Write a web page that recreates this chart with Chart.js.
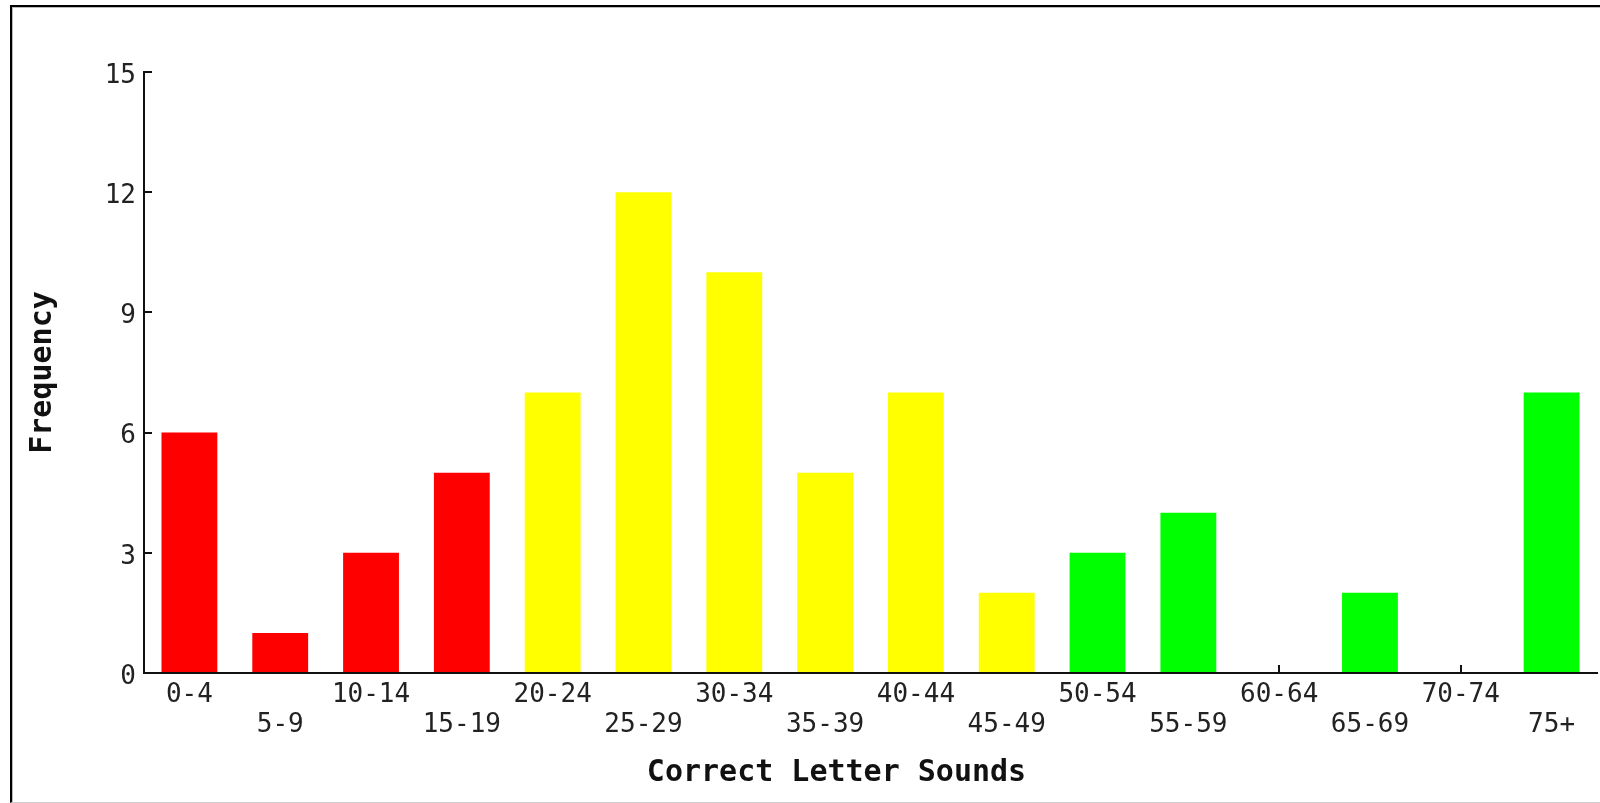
<!DOCTYPE html>
<html>
<head>
<meta charset="utf-8">
<script src="https://cdn.jsdelivr.net/npm/chart.js@4.4.1/dist/chart.umd.min.js"></script>
<style>
  html, body { margin: 0; padding: 0; background: #fff; overflow: hidden; }
  #wrap { position: relative; width: 1600px; height: 803px; }
  #frame { position: absolute; left: 10px; top: 5px; width: 1590px; height: 798px; box-sizing: border-box;
           border-top: 2px solid #000; border-left: 2px solid #000; border-bottom: 1px solid #cfcfcf; pointer-events: none;
           box-shadow: inset 1px 1px 0 #bbb; }
  canvas { position: absolute; left: 0; top: 0; }
</style>
</head>
<body>
<div id="wrap">
  <canvas id="c" width="1600" height="803"></canvas>
  <div id="frame"></div>
</div>
<script>
// ---- data ----
const categories = ['0-4','5-9','10-14','15-19','20-24','25-29','30-34','35-39','40-44','45-49','50-54','55-59','60-64','65-69','70-74','75+'];
const frequency  = [6, 1, 3, 5, 7, 12, 10, 5, 7, 2, 3, 4, 0, 2, 0, 7];
const band       = ['low','low','low','low','mid','mid','mid','mid','mid','mid','high','high','high','high','high','high'];
const yTickStep  = 3;
const yMax       = 15;
const xTitle     = 'Correct Letter Sounds';
const yTitle     = 'Frequency';

// ---- styles ----
const bandColors = { low: '#ff0000', mid: '#ffff00', high: '#00ff00' };
const barColors = band.map(b => bandColors[b]);
const MONO = "'DejaVu Sans Mono', 'Liberation Mono', monospace";

const shiftXTitle = {
  id: 'shiftXTitle',
  afterLayout(chart) {
    const s = chart.scales.x;
    if (!s.__patched) {
      const orig = s.drawTitle.bind(s);
      s.drawTitle = function () {
        const ctx = this.ctx;
        ctx.save();
        ctx.translate(-34, 0);
        orig();
        ctx.restore();
      };
      s.__patched = true;
    }
  }
};

new Chart(document.getElementById('c'), {
  type: 'bar',
  data: {
    labels: categories,
    datasets: [{
      data: frequency,
      backgroundColor: barColors,
      borderWidth: 0,
      barPercentage: 0.615,
      categoryPercentage: 1.0
    }]
  },
  options: {
    responsive: false,
    animation: false,
    devicePixelRatio: 1,
    layout: { padding: { top: 72, left: 12, right: 3, bottom: 0 } },
    plugins: { legend: { display: false }, tooltip: { enabled: false } },
    scales: {
      x: {
        afterFit: s => { s.height = 130; },
        grid: { offset: false, drawOnChartArea: false, drawTicks: true, tickLength: -8, color: '#111', lineWidth: 2, tickWidth: 2 },
        border: { display: true, color: '#111', width: 2 },
        ticks: {
          autoSkip: false, maxRotation: 0, minRotation: 0, padding: 15, color: '#222',
          font: { family: MONO, size: 26, lineHeight: 1.15 },
          callback: (v, i) => (i % 2 ? ['', categories[i]] : categories[i])
        },
        title: { display: true, text: xTitle, color: '#111', font: { family: MONO, size: 30, weight: 'bold', lineHeight: 1.2 }, padding: { top: 0, bottom: 12 } }
      },
      y: {
        min: 0, max: yMax,
        afterFit: s => { s.width = 132; },
        grid: { drawOnChartArea: false, drawTicks: true, tickLength: -8, color: '#111', lineWidth: 2, tickWidth: 2 },
        border: { display: true, color: '#111', width: 2 },
        ticks: { stepSize: yTickStep, padding: 16, labelOffset: 4, color: '#222', font: { family: MONO, size: 26 } },
        title: { display: true, text: yTitle, color: '#111', font: { family: MONO, size: 30, weight: 'bold', lineHeight: 1.2 }, padding: { top: 13, bottom: 0 } }
      }
    }
  },
  plugins: [shiftXTitle]
});
</script>
</body>
</html>
